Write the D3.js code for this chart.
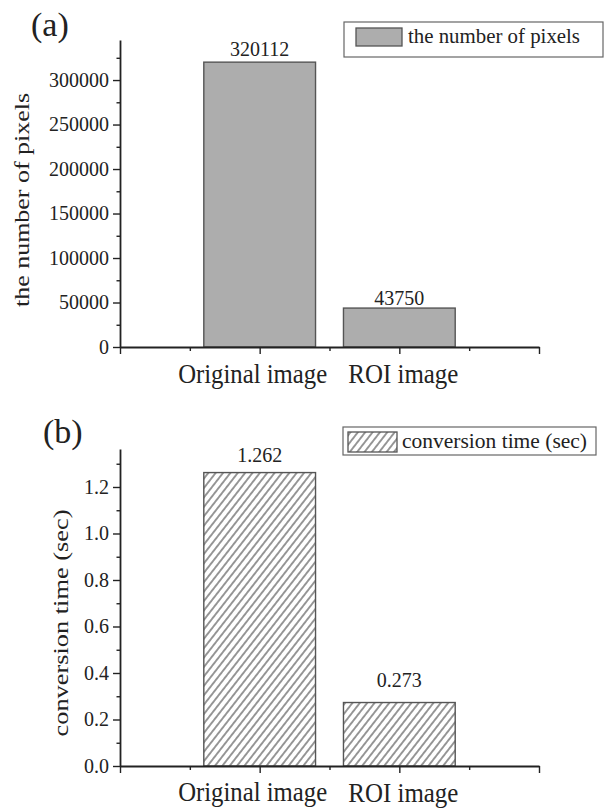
<!DOCTYPE html>
<html>
<head>
<meta charset="utf-8">
<script src="https://cdn.jsdelivr.net/npm/d3@7"></script>
<style>
body { margin: 0; background: #fff; }
svg { display: block; }
svg text { font-family: "Liberation Serif", "Times New Roman", serif !important; }
</style>
</head>
<body>
<div class="container"></div>
<script>
const categories = ["Original image", "ROI image"];
const pixelCounts = [320112, 43750];
const conversionTimes = [1.262, 0.273];
const pixelTicks = [0, 50000, 100000, 150000, 200000, 250000, 300000];
const pixelMinorTicks = [25000, 75000, 125000, 175000, 225000, 275000, 325000];
const timeTicks = [0, 0.2, 0.4, 0.6, 0.8, 1.0, 1.2];
const timeMinorTicks = [0.1, 0.3, 0.5, 0.7, 0.9, 1.1, 1.3];
const panelLabels = ["(a)", "(b)"];
const axisTitles = ["the number of pixels", "conversion time (sec)"];
const legendLabels = ["the number of pixels", "conversion time (sec)"];

const WIDTH = 605;
const HEIGHT = 809;
const X_LEFT = 120;
const X_RIGHT = 539;

var svg = d3.select('.container').append('svg')
  .attr('width', WIDTH)
  .attr('height', HEIGHT);

svg.append('rect').attr('width', WIDTH).attr('height', HEIGHT).attr('fill', '#fff');

// diagonal hatch for panel (b)
svg.append('defs').append('pattern')
  .attr('id', 'hatch')
  .attr('patternUnits', 'userSpaceOnUse')
  .attr('width', 5.8)
  .attr('height', 10)
  .attr('patternTransform', 'rotate(38)')
  .call(function (p) {
    p.append('rect').attr('width', 5.8).attr('height', 10).attr('fill', '#fff');
    p.append('line')
      .attr('x1', 2.9).attr('y1', 0).attr('x2', 2.9).attr('y2', 10)
      .attr('stroke', '#444').attr('stroke-width', 1.1);
  });

var panels = [
  {
    values: pixelCounts, ticks: pixelTicks, minor: pixelMinorTicks, max: 345000,
    fmt: d3.format('d'), valueFmt: d3.format('d'),
    top: 40, bottom: 347, fill: '#adadad',
    label: panelLabels[0], labelPos: [31, 36],
    title: axisTitles[0], titlePos: [29, 200], titleLen: 214,
    labelY: 383, labelDy: [0, 0], valueGap: [6, 3],
    legend: { box: [344, 22, 259, 35], swatch: [356, 28, 46, 18], textX: 408, textY: 43, len: 172, text: legendLabels[0] }
  },
  {
    values: conversionTimes, ticks: timeTicks, minor: timeMinorTicks, max: 1.3634,
    fmt: d3.format('.1f'), valueFmt: d3.format('.3f'),
    top: 449, bottom: 766, fill: 'url(#hatch)',
    label: panelLabels[1], labelPos: [43, 443],
    title: axisTitles[1], titlePos: [68, 623], titleLen: 227,
    labelY: 801, labelDy: [0, 1], valueGap: [11, 16],
    legend: { box: [343, 427, 253, 28], swatch: [348, 432, 49, 20], textX: 402, textY: 448, len: 185, text: legendLabels[1] }
  }
];

var xScale = d3.scaleLinear().domain([0, 3]).range([X_LEFT, X_RIGHT]);
var catShift = [-7, 4];
var catLen = [149, 110];

var translate = function (x, y) {
  return "translate(" + x + "," + y + ")";
};

panels.forEach(function (p) {
  var yScale = d3.scaleLinear().domain([0, p.max]).range([p.bottom, p.top]);
  var g = svg.append('g');

  // bars
  g.selectAll('rect.bar')
    .data(p.values)
    .enter().append('rect')
    .attr('class', 'bar')
    .attr('x', function (d, i) { return xScale(i + 1 - 0.4); })
    .attr('width', function () { return xScale(0.8) - xScale(0); })
    .attr('y', function (d) { return yScale(d); })
    .attr('height', function (d) { return p.bottom - yScale(d); })
    .attr('fill', p.fill)
    .attr('stroke', '#555')
    .attr('stroke-width', 1.4);

  // value labels
  g.selectAll('text.val')
    .data(p.values)
    .enter().append('text')
    .attr('class', 'val')
    .attr('x', function (d, i) { return xScale(i + 1); })
    .attr('y', function (d, i) { return yScale(d) - p.valueGap[i]; })
    .attr('text-anchor', 'middle')
    .attr('font-size', 20)
    .attr('fill', '#222')
    .text(function (d) { return p.valueFmt(d); });

  // y axis
  var yAxis = g.append('g')
    .attr('transform', translate(X_LEFT, 0))
    .call(d3.axisLeft(yScale).tickValues(p.ticks).tickFormat(p.fmt)
      .tickSize(7).tickPadding(4).tickSizeOuter(0));
  yAxis.attr('font-family', null).attr('font-size', 20);
  yAxis.selectAll('text').attr('fill', '#222');

  var yMinor = g.append('g')
    .attr('transform', translate(X_LEFT, 0))
    .call(d3.axisLeft(yScale).tickValues(p.minor).tickFormat('').tickSize(3.5).tickSizeOuter(0));
  yMinor.select('.domain').remove();

  // x axis
  g.append('g')
    .attr('transform', translate(0, p.bottom))
    .call(d3.axisBottom(xScale).tickValues([0, 1, 2, 3]).tickFormat('').tickSize(7).tickSizeOuter(0));
  var xMinor = g.append('g')
    .attr('transform', translate(0, p.bottom))
    .call(d3.axisBottom(xScale).tickValues([0.5, 1.5, 2.5]).tickFormat('').tickSize(4).tickSizeOuter(0));
  xMinor.select('.domain').remove();

  g.selectAll('.domain').attr('stroke', '#222').attr('stroke-width', 1.8);
  g.selectAll('.tick line').attr('stroke', '#222').attr('stroke-width', 1.4);

  // category labels
  g.selectAll('text.cat')
    .data(categories)
    .enter().append('text')
    .attr('class', 'cat')
    .attr('x', function (d, i) { return xScale(i + 1) + catShift[i]; })
    .attr('y', function (d, i) { return p.labelY + p.labelDy[i]; })
    .attr('text-anchor', 'middle')
    .attr('font-size', 28)
    .attr('textLength', function (d, i) { return catLen[i]; })
    .attr('lengthAdjust', 'spacingAndGlyphs')
    .attr('fill', '#222')
    .text(function (d) { return d; });

  // y title
  g.append('text')
    .attr('transform', translate(p.titlePos[0], p.titlePos[1]) + ' rotate(-90)')
    .attr('text-anchor', 'middle')
    .attr('font-size', 21)
    .attr('textLength', p.titleLen)
    .attr('lengthAdjust', 'spacingAndGlyphs')
    .attr('fill', '#222')
    .text(p.title);

  // panel label
  g.append('text')
    .attr('x', p.labelPos[0])
    .attr('y', p.labelPos[1])
    .attr('font-size', 34)
    .attr('fill', '#222')
    .text(p.label);

  // legend
  var lg = p.legend;
  g.append('rect')
    .attr('x', lg.box[0]).attr('y', lg.box[1])
    .attr('width', lg.box[2]).attr('height', lg.box[3])
    .attr('fill', '#fff').attr('stroke', '#666').attr('stroke-width', 1.2);
  g.append('rect')
    .attr('x', lg.swatch[0]).attr('y', lg.swatch[1])
    .attr('width', lg.swatch[2]).attr('height', lg.swatch[3])
    .attr('fill', p.fill).attr('stroke', '#555').attr('stroke-width', 1.3);
  g.append('text')
    .attr('x', lg.textX).attr('y', lg.textY)
    .attr('font-size', 22)
    .attr('textLength', lg.len)
    .attr('lengthAdjust', 'spacingAndGlyphs')
    .attr('fill', '#222')
    .text(lg.text);
});
</script>
</body>
</html>
